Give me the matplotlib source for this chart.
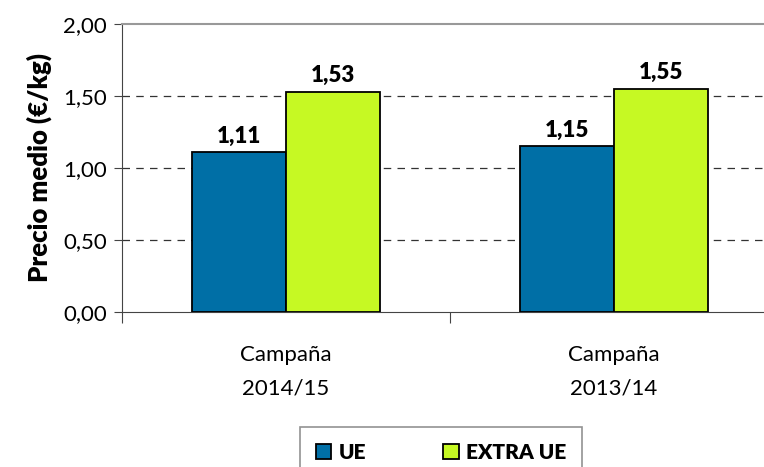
import matplotlib.pyplot as plt
import numpy as np

# Datos: precio medio por campaña (€/kg)
campanas = ['Campaña\n2014/15', 'Campaña\n2013/14']
ue = [1.11, 1.15]
extra_ue = [1.53, 1.55]
yticks = [0.0, 0.5, 1.0, 1.5, 2.0]

plt.rcParams['font.family'] = ['Lato', 'DejaVu Sans']

fig = plt.figure(figsize=(7.64, 4.67), dpi=100)
# el área de trazado se sale un poco por la derecha, como en el original
ax = fig.add_axes([122 / 764, 1 - 312 / 467, 656 / 764, 288 / 467])

x = np.arange(len(campanas)) + 0.5
w = 0.287
b1 = ax.bar(x - w / 2, ue, w, color='#006fa6', edgecolor='black', linewidth=1.3,
            label='UE', zorder=3)
b2 = ax.bar(x + w / 2, extra_ue, w, color='#c6f923', edgecolor='black', linewidth=1.3,
            label='EXTRA UE', zorder=3)

for bars in (b1, b2):
    for r in bars:
        ax.annotate(f'{r.get_height():.2f}'.replace('.', ','),
                    (r.get_x() + r.get_width() / 2, r.get_height()),
                    xytext=(0, 4), textcoords='offset points',
                    ha='center', va='bottom', fontsize=16, fontweight='heavy')

ax.set_xlim(0, 2)
ax.set_ylim(0, 2)
ax.set_yticks(yticks)
ax.set_yticklabels([f'{v:.2f}'.replace('.', ',') for v in yticks], fontsize=16)

# marcas entre categorías, etiquetas centradas
ax.set_xticks([0, 1, 2])
ax.set_xticklabels([])
ax.set_xticks(x, minor=True)
ax.set_xticklabels(campanas, minor=True, fontsize=16, linespacing=1.85)
ax.tick_params(axis='x', which='minor', length=0, pad=24)
ax.tick_params(axis='x', which='major', length=8, color='#444444')
ax.tick_params(axis='y', length=6, color='#444444', pad=5)

for v in yticks[1:-1]:
    ax.axhline(v, color='#333333', linestyle=(0, (6, 5)), linewidth=0.9, zorder=1)

ax.spines['top'].set_color('#999999')
ax.spines['top'].set_linewidth(1.5)
ax.spines['right'].set_visible(False)
ax.spines['left'].set_color('#444444')
ax.spines['bottom'].set_color('#444444')

ax.set_ylabel('Precio medio (€/kg)', fontsize=18.5, fontweight='heavy', labelpad=8)

leg = fig.legend(loc='upper center', bbox_to_anchor=(441 / 764, 1 - 427 / 467),
                 ncol=2, frameon=True, fancybox=False,
                 handlelength=0.75, handleheight=0.75, handletextpad=0.35,
                 columnspacing=3.7, borderpad=0.75, borderaxespad=0,
                 prop={'weight': 'heavy', 'size': 15})
leg.get_frame().set_edgecolor('#777777')
leg.get_frame().set_linewidth(1.2)

fig.savefig('out.png', dpi=100)
